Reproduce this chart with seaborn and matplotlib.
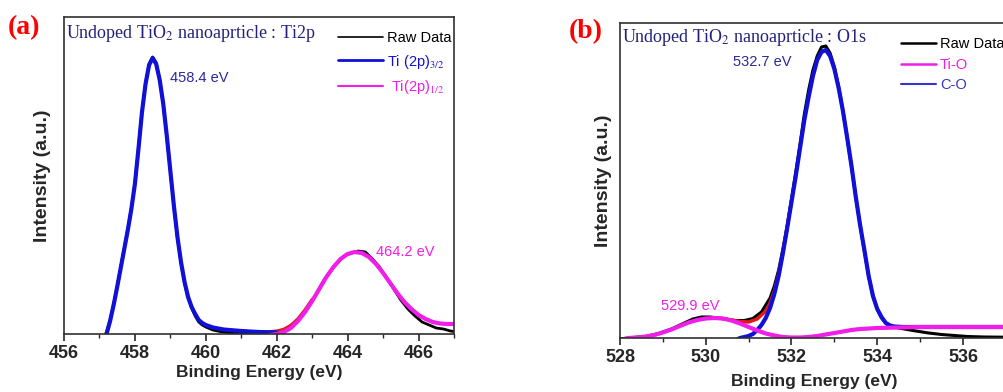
import numpy as np
import pandas as pd
import matplotlib
matplotlib.use("Agg")
import matplotlib.pyplot as plt
import seaborn as sns
from matplotlib.lines import Line2D
from matplotlib.ticker import MultipleLocator

# estilo
sns.set_style("ticks")
plt.rcParams['font.family'] = ['Liberation Sans', 'DejaVu Sans']
plt.rcParams['mathtext.fontset'] = 'stix'

BLUE = '#1010d8'
MAGENTA = '#f01ee8'
RED = '#e01818'
NAVY = '#22227a'

# ---------------- dados: Ti2p ----------------
ti32_be = [457.1, 457.2, 457.3, 457.4, 457.5, 457.6, 457.7, 457.8, 457.9, 458.0,
           458.1, 458.2, 458.3, 458.4, 458.5, 458.6, 458.7, 458.8, 458.9, 459.0,
           459.1, 459.2, 459.3, 459.4, 459.5, 459.6, 459.7, 459.8, 459.9, 460.0,
           460.2, 460.5, 461.0, 461.5, 462.0]
ti32_int = [-5, 0, 13, 29, 47, 66, 85, 104, 125, 150,
            185, 222, 250, 269, 276, 270, 254, 230, 198, 163,
            128, 97, 72, 52, 37, 27, 20, 14, 11, 9,
            6.5, 4.5, 3, 2, 1.5]

ti12_be = [461.8, 462.0, 462.2, 462.4, 462.6, 462.8, 463.0, 463.2, 463.4, 463.6,
           463.8, 464.0, 464.2, 464.4, 464.6, 464.8, 465.0, 465.2, 465.4, 465.6,
           465.8, 466.0, 466.2, 466.4, 466.6, 466.8, 467.0]
ti12_int = [-1, 0, 2, 6, 13, 22, 33, 45, 57, 67,
            75, 80, 82, 81, 77, 70, 61, 51, 41, 32,
            25, 19, 15, 12, 10.5, 10, 10]

fit_a_be = [461.6, 461.8, 462.0, 462.2, 462.4, 462.6, 462.8, 463.0]
fit_a_int = [2, 2.2, 2.8, 4.5, 8.5, 15, 24, 34.5]

raw_a_be = [457.15, 457.2, 457.3, 457.4, 457.5, 457.6, 457.7, 457.8, 457.9, 458.0,
            458.1, 458.2, 458.3, 458.4, 458.5, 458.6, 458.7, 458.8, 458.9, 459.0,
            459.1, 459.2, 459.3, 459.4, 459.5, 459.6, 459.7, 459.8, 459.9, 460.0,
            460.2, 460.4, 460.6, 460.8, 461.0, 461.3, 461.6, 461.9, 462.1, 462.3,
            462.5, 462.7, 462.9, 463.1, 463.3, 463.5, 463.7, 463.9, 464.1, 464.3,
            464.5, 464.7, 464.9, 465.1, 465.3, 465.5, 465.7, 465.9, 466.1, 466.3,
            466.5, 466.7, 466.9, 467.0]
raw_a_int = [-2, 2, 14, 30, 48, 67, 86, 105, 126, 151,
             186, 223, 251, 270, 277, 271, 254, 229, 197, 162,
             127, 96, 71, 51, 36, 26, 18, 12, 9, 7,
             4, 2.5, 1.5, 0.5, 1, 0.5, 0.8, 1.5, 3, 6,
             11, 18, 28, 39, 52, 62, 71, 78, 81, 83,
             82, 75, 67, 56, 45, 34, 25, 18, 12, 9,
             6, 5, 3, 2.5]

# ---------------- dados: O1s ----------------
co_be = [530.7, 530.8, 531.0, 531.1, 531.2, 531.3, 531.4, 531.5, 531.6, 531.7,
         531.8, 531.9, 532.0, 532.1, 532.2, 532.3, 532.4, 532.5, 532.6, 532.7,
         532.8, 532.9, 533.0, 533.1, 533.2, 533.3, 533.4, 533.5, 533.6, 533.7,
         533.8, 533.9, 534.0, 534.1, 534.2, 534.3, 534.4, 534.6, 535.0, 536.0, 537.0]
co_int = [-2, 0, 2, 4, 8, 13, 20, 30, 44, 62,
          85, 110, 136, 162, 190, 218, 241, 262, 278, 286,
          288, 282, 269, 250, 227, 200, 172, 141, 113, 88,
          62, 42, 29, 21, 15, 12.5, 11.5, 11, 11, 11, 11]

tio_be = [528.1, 528.2, 528.4, 528.6, 528.8, 529.0, 529.2, 529.4, 529.6, 529.8,
          530.0, 530.2, 530.4, 530.6, 530.8, 531.0, 531.2, 531.4, 531.6, 531.8,
          532.0, 532.2, 532.4, 532.6, 532.8, 533.0, 533.2, 533.4, 533.6, 533.8,
          534.0, 534.5, 535.0, 536.0, 537.0]
tio_int = [-1, 0, 0.5, 1.5, 3, 5.5, 8.5, 12, 15.5, 18,
           19.5, 20, 19.5, 17.5, 14.5, 11, 7.5, 4.5, 2.5, 1,
           0.5, 0.5, 1, 2, 3.5, 5, 6.5, 8, 9, 9.5,
           10, 10.5, 11, 11, 11]

fit_b_be = [530.2, 530.4, 530.6, 530.8, 531.0, 531.2, 531.4, 531.5, 531.6, 531.7,
            531.8, 531.9, 532.0]
fit_b_int = [20, 19.5, 18, 16.5, 16, 19, 27, 35, 47, 64,
             86, 111, 137]

raw_b_be = [528.0, 528.3, 528.6, 528.9, 529.2, 529.5, 529.7, 529.9, 530.1, 530.3,
            530.5, 530.7, 530.9, 531.1, 531.3, 531.5, 531.6, 531.7, 531.8, 531.9,
            532.0, 532.1, 532.2, 532.3, 532.4, 532.5, 532.6, 532.7, 532.8, 532.9,
            533.0, 533.1, 533.2, 533.3, 533.4, 533.5, 533.6, 533.7, 533.8, 533.9,
            534.0, 534.1, 534.2, 534.3, 534.5, 534.7, 534.9, 535.2, 535.5, 535.8,
            536.1, 536.5, 537.0]
raw_b_int = [-1, 0.5, 1.5, 4.5, 9, 15, 19, 21, 21, 20,
             18.5, 17.5, 17.5, 19.5, 26, 40, 52, 68, 89, 112,
             139, 166, 194, 224, 248, 268, 282, 291, 292, 285,
             271, 251, 227, 200, 171, 141, 113, 87, 62, 42,
             29, 20, 15, 12, 10, 8.5, 7, 5, 3.5, 2.5,
             1.5, 1, 0.8]

fig = plt.figure(figsize=(10.04, 3.92), dpi=100)
ax1 = fig.add_axes([64 / 1004, 58 / 392, 390 / 1004, 317 / 392])
ax2 = fig.add_axes([620 / 1004, 54 / 392, 388 / 1004, 315 / 392])


def estilo_eixo(ax, xmin, xmax, ymax, xlabelpad, ylabelpad):
    ax.set_xlim(xmin, xmax)
    ax.set_ylim(0, ymax)
    ax.set_yticks([])
    ax.xaxis.set_major_locator(MultipleLocator(2))
    ax.xaxis.set_minor_locator(MultipleLocator(1))
    ax.tick_params(axis='x', which='major', direction='out', length=5, width=1.2,
                   pad=3, labelsize=13)
    ax.tick_params(axis='x', which='minor', direction='out', length=3, width=1.0)
    for sp in ax.spines.values():
        sp.set_visible(True)
        sp.set_linewidth(1.2)
        sp.set_color('#303030')
    ax.set_xlabel('Binding Energy (eV)', fontsize=12.5, fontweight='bold', labelpad=xlabelpad)
    ax.set_ylabel('Intensity (a.u.)', fontsize=14, fontweight='bold', labelpad=ylabelpad)


# ---- painel (a) ----
sns.lineplot(x=raw_a_be, y=raw_a_int, ax=ax1, color='black', lw=2.0)
sns.lineplot(x=fit_a_be, y=fit_a_int, ax=ax1, color=RED, lw=2.5)
sns.lineplot(x=ti32_be, y=ti32_int, ax=ax1, color=BLUE, lw=3.0)
sns.lineplot(x=ti12_be, y=ti12_int, ax=ax1, color=MAGENTA, lw=3.0)
estilo_eixo(ax1, 456, 467, 317, 2, 9)
ax1.set_xticks([456, 458, 460, 462, 464, 466])
for lbl in ax1.get_xticklabels():
    lbl.set_fontweight('bold')

ax1.text(0.005, 0.934, 'Undoped TiO$_2$ nanoaprticle : Ti2p', transform=ax1.transAxes,
         family=['Liberation Serif', 'DejaVu Serif'], fontsize=13, color=NAVY, va='baseline')
ax1.text(458.99, 256, '458.4 eV', color='#2a2a9a', fontsize=10.5, va='center')
ax1.text(464.79, 82, '464.2 eV', color=MAGENTA, fontsize=10.5, va='center')

handles_a = [Line2D([], [], color='black', lw=1.2),
             Line2D([], [], color=BLUE, lw=2.0),
             Line2D([], [], color=MAGENTA, lw=1.5)]
ax1.legend(handles_a, ['Raw Data', 'Ti (2p)$_{3/2}$', ' Ti(2p)$_{1/2}$'],
           loc='upper left', bbox_to_anchor=(0.7026, 0.955), frameon=False,
           fontsize=10.5, handlelength=3.1, handletextpad=0.25, labelspacing=0.5,
           borderpad=0, borderaxespad=0,
           labelcolor=['black', BLUE, MAGENTA])

# ---- painel (b) ----
sns.lineplot(x=raw_b_be, y=raw_b_int, ax=ax2, color='black', lw=2.2)
sns.lineplot(x=fit_b_be, y=fit_b_int, ax=ax2, color=RED, lw=2.5)
sns.lineplot(x=co_be, y=co_int, ax=ax2, color=BLUE, lw=3.0)
sns.lineplot(x=tio_be, y=tio_int, ax=ax2, color=MAGENTA, lw=3.0)
estilo_eixo(ax2, 528, 537.05, 315, 6, 6)
ax2.set_xticks([528, 530, 532, 534, 536])
for lbl in ax2.get_xticklabels():
    lbl.set_fontweight('bold')

ax2.text(0.005, 0.94, 'Undoped TiO$_2$ nanoaprticle : O1s', transform=ax2.transAxes,
         family=['Liberation Serif', 'DejaVu Serif'], fontsize=13, color=NAVY, va='baseline')
ax2.text(530.63, 276, '532.7 eV', color='#2a2a9a', fontsize=10.5, va='center')
ax2.text(528.95, 32, '529.9 eV', color=MAGENTA, fontsize=10.5, va='center')

handles_b = [Line2D([], [], color='black', lw=1.8),
             Line2D([], [], color=MAGENTA, lw=1.8),
             Line2D([], [], color='#3434d0', lw=1.5)]
ax2.legend(handles_b, ['Raw Data', 'Ti-O', 'C-O'],
           loc='upper left', bbox_to_anchor=(0.725, 0.955), frameon=False,
           fontsize=10.5, handlelength=2.4, handletextpad=0.25, labelspacing=0.45,
           borderpad=0, borderaxespad=0,
           labelcolor=['black', MAGENTA, '#3434d0'])

# rótulos dos painéis
fig.text(0.008, 0.913, '(a)', color='red', fontsize=20, fontweight='bold',
         family=['Liberation Serif', 'DejaVu Serif'], va='baseline')
fig.text(0.566, 0.903, '(b)', color='red', fontsize=20, fontweight='bold',
         family=['Liberation Serif', 'DejaVu Serif'], va='baseline')

fig.savefig('out.png', dpi=100)
